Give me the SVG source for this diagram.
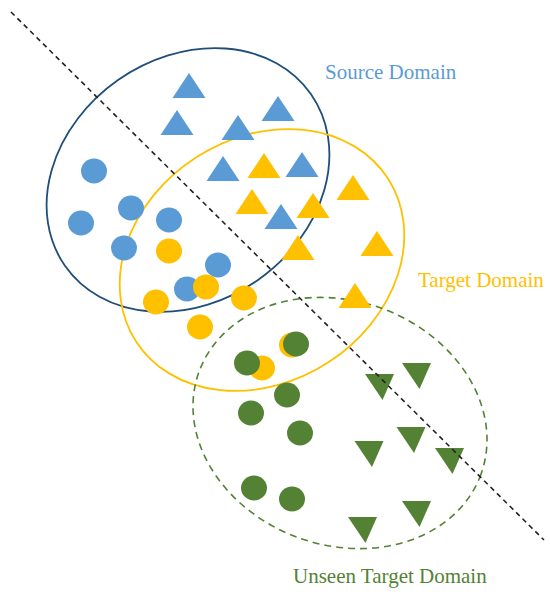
<svg xmlns="http://www.w3.org/2000/svg" width="550" height="592" viewBox="0 0 550 592">
<style>
.bl{fill:#5B9BD5}
.ye{fill:#FFC000}
.gr{fill:#548235}
.lbl{font-family:"Liberation Serif","Times New Roman",serif;font-size:21px}
</style>
<defs>
<path id="up" d="M0,0 L16.5,25 L-16.5,25 Z"/>
<path id="dn" d="M-14.5,0 L14.5,0 L3,26 Z"/>
<ellipse id="dot" cx="0" cy="0" rx="13" ry="12.5"/>
</defs>
<rect width="550" height="592" fill="#fff"/>
<g id="domains" fill="none">
<g id="source-domain-region"><ellipse cx="188" cy="180" rx="150" ry="122" transform="rotate(-35 188 180)" stroke="#1F4E79" stroke-width="1.8"/></g>
<g id="target-domain-region"><ellipse cx="262" cy="260" rx="150" ry="122" transform="rotate(-33 262 260)" stroke="#FFC000" stroke-width="1.8"/></g>
<g id="unseen-domain-region"><ellipse cx="340" cy="423" rx="150" ry="122" transform="rotate(20 340 423)" stroke="#548235" stroke-width="1.6" stroke-dasharray="7 5"/></g>
</g>
<g id="source-samples" class="bl">
<use href="#up" x="189" y="73"/>
<use href="#up" x="177" y="110"/>
<use href="#up" x="238" y="115"/>
<use href="#up" x="278" y="96"/>
<use href="#up" x="223" y="156"/>
<use href="#up" x="302" y="152"/>
<use href="#up" x="281" y="204"/>
<use href="#dot" x="94" y="171"/>
<use href="#dot" x="131" y="208"/>
<use href="#dot" x="81" y="223"/>
<use href="#dot" x="169" y="220"/>
<use href="#dot" x="124" y="248"/>
<use href="#dot" x="218" y="265"/>
<use href="#dot" x="187" y="289"/>
</g>
<g id="target-samples" class="ye">
<use href="#up" x="264" y="153"/>
<use href="#up" x="252" y="189"/>
<use href="#up" x="313" y="193"/>
<use href="#up" x="353" y="175"/>
<use href="#up" x="298" y="235"/>
<use href="#up" x="377" y="231"/>
<use href="#up" x="355" y="283"/>
<use href="#dot" x="169" y="251"/>
<use href="#dot" x="206" y="287"/>
<use href="#dot" x="156" y="302"/>
<use href="#dot" x="244" y="298"/>
<use href="#dot" x="200" y="327"/>
<use href="#dot" x="292" y="345"/>
<use href="#dot" x="262" y="368"/>
</g>
<g id="unseen-samples" class="gr">
<use href="#dot" x="296" y="344"/>
<use href="#dot" x="247" y="363"/>
<use href="#dot" x="287" y="395"/>
<use href="#dot" x="251" y="413"/>
<use href="#dot" x="300" y="433"/>
<use href="#dot" x="254" y="488"/>
<use href="#dot" x="292" y="499"/>
<use href="#dn" x="379.5" y="374"/>
<use href="#dn" x="416.5" y="363"/>
<use href="#dn" x="411" y="427"/>
<use href="#dn" x="369" y="441"/>
<use href="#dn" x="449.5" y="448"/>
<use href="#dn" x="416.5" y="501"/>
<use href="#dn" x="362.5" y="517"/>
</g>
<g id="connectors">
<line id="decision-boundary" x1="11" y1="12" x2="544" y2="540" stroke="#222" stroke-width="1.6" stroke-dasharray="5 4"/>
</g>
<g id="labels" class="lbl">
<text id="source-label" x="325" y="79" fill="#5B9BD5">Source Domain</text>
<text id="target-label" x="418" y="287" fill="#FFC000">Target Domain</text>
<text id="unseen-label" x="293" y="583" fill="#548235">Unseen Target Domain</text>
</g>
</svg>
